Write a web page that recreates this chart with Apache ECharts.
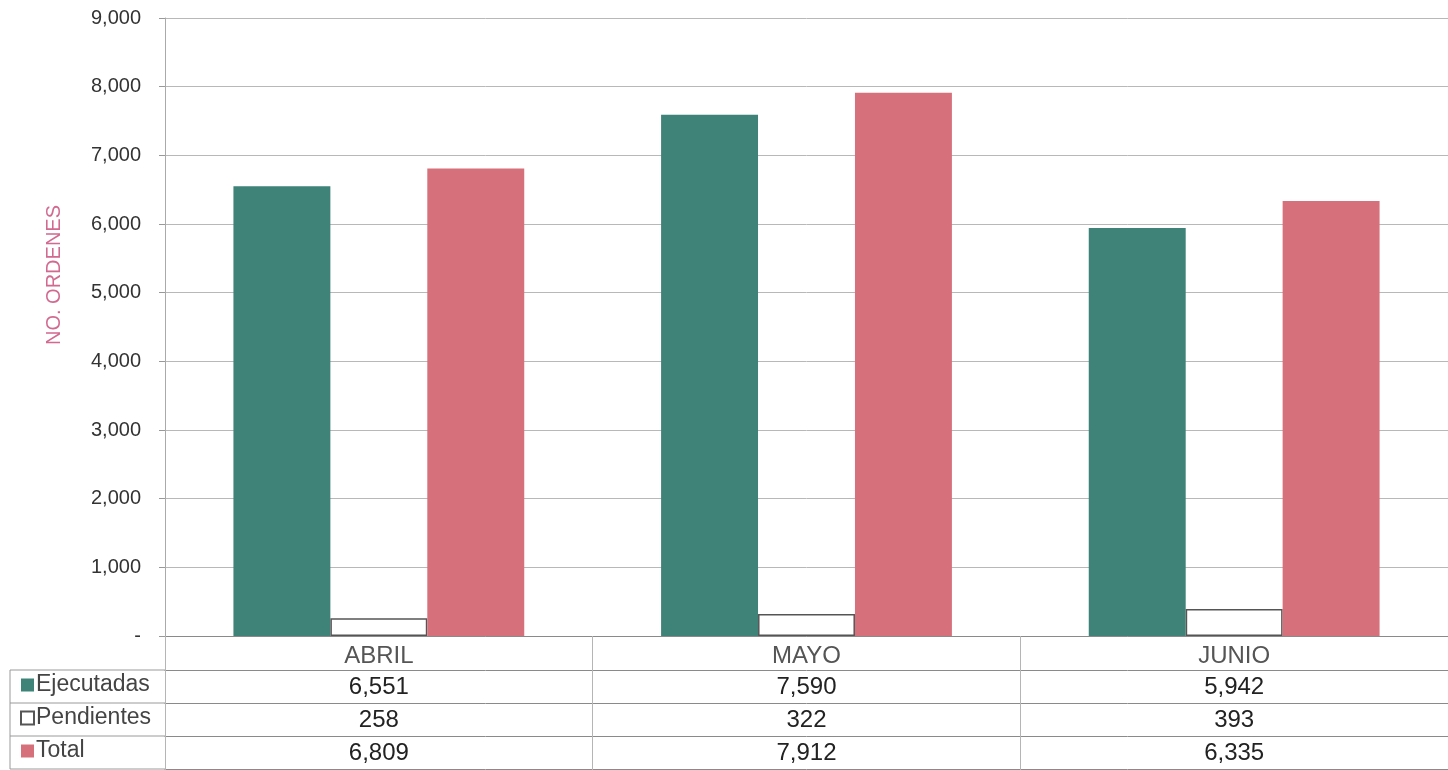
<!DOCTYPE html>
<html>
<head>
<meta charset="utf-8">
<script src="https://cdn.jsdelivr.net/npm/echarts@6/dist/echarts.min.js"></script>
<style>html,body{margin:0;padding:0;background:#fff}#c{width:1448px;height:770px}</style>
</head>
<body>
<div id="c"></div>
<script>
const months = ['ABRIL', 'MAYO', 'JUNIO'];
const ejecutadas = [6551, 7590, 5942];
const pendientes = [258, 322, 393];
const total = [6809, 7912, 6335];
const seriesNames = ['Ejecutadas', 'Pendientes', 'Total'];
const yTicks = { min: 0, max: 9000, interval: 1000 };

const fmt = v => v.toLocaleString('en-US');
const FONT = 'Liberation Sans, Arial, sans-serif';
const chart = echarts.init(document.getElementById('c'));

function tableAxis(values, offset, show) {
  return {
    type: 'category', gridIndex: 0, position: 'bottom', offset: offset,
    data: values ? values.map(fmt) : months.map(() => ''),
    axisLine: { show: true, lineStyle: { color: '#8a8a8a', width: 1 } },
    axisTick: { show: false },
    axisLabel: { show: show, margin: 5, fontSize: 24, color: '#222', fontFamily: FONT },
    splitLine: { show: false }
  };
}

const lineStyle = { stroke: '#9a9a9a', lineWidth: 1 };
chart.setOption({
  animation: false,
  textStyle: { fontFamily: FONT },
  grid: { left: 165, right: 0, top: 18, bottom: 134 },
  legend: {
    orient: 'vertical', left: 20, top: 673, itemGap: 9, padding: 0, height: 97,
    itemWidth: 13, itemHeight: 13, icon: 'rect',
    textStyle: { fontSize: 23, color: '#444', lineHeight: 24, padding: [0, 0, 0, -3], fontFamily: FONT },
    data: seriesNames
  },
  xAxis: [
    {
      type: 'category', data: months, gridIndex: 0,
      axisLine: { show: true, lineStyle: { color: '#8a8a8a', width: 1 } },
      axisTick: { show: true, length: 134, lineStyle: { color: '#b5b5b5' } },
      axisLabel: { fontSize: 24, color: '#555', margin: 8, fontFamily: FONT },
      splitLine: { show: false }
    },
    tableAxis(ejecutadas, 34, true),
    tableAxis(pendientes, 67, true),
    tableAxis(total, 100, true),
    tableAxis(null, 133, false)
  ],
  yAxis: {
    type: 'value', min: yTicks.min, max: yTicks.max, interval: yTicks.interval,
    name: 'NO. ORDENES', nameLocation: 'middle', nameGap: 101, nameRotate: 90,
    nameTextStyle: { color: '#d26a90', fontSize: 20, padding: [0, 0, 0, 104], fontFamily: FONT },
    axisLine: { show: true, lineStyle: { color: '#aaaaaa' } },
    axisTick: { show: true, length: 6, lineStyle: { color: '#999' } },
    axisLabel: {
      fontSize: 20, color: '#333', margin: 24, fontFamily: FONT,
      formatter: v => v === 0 ? '-' : fmt(v)
    },
    splitLine: { show: true, lineStyle: { color: '#b8b8b8', width: 1 } }
  },
  series: [
    { name: seriesNames[0], type: 'bar', data: ejecutadas, barGap: '0%', barCategoryGap: '32%',
      itemStyle: { color: '#3e8278' } },
    { name: seriesNames[1], type: 'bar', data: pendientes,
      itemStyle: { color: '#ffffff', borderColor: '#555', borderWidth: 1.5 } },
    { name: seriesNames[2], type: 'bar', data: total,
      itemStyle: { color: '#d6707a' } }
  ],
  graphic: [
    { type: 'line', shape: { x1: 10, y1: 670, x2: 165, y2: 670 }, style: lineStyle },
    { type: 'line', shape: { x1: 10, y1: 703, x2: 165, y2: 703 }, style: lineStyle },
    { type: 'line', shape: { x1: 10, y1: 736, x2: 165, y2: 736 }, style: lineStyle },
    { type: 'line', shape: { x1: 10, y1: 769, x2: 165, y2: 769 }, style: lineStyle },
    { type: 'line', shape: { x1: 10, y1: 670, x2: 10, y2: 769 }, style: lineStyle }
  ]
});
</script>
</body>
</html>
